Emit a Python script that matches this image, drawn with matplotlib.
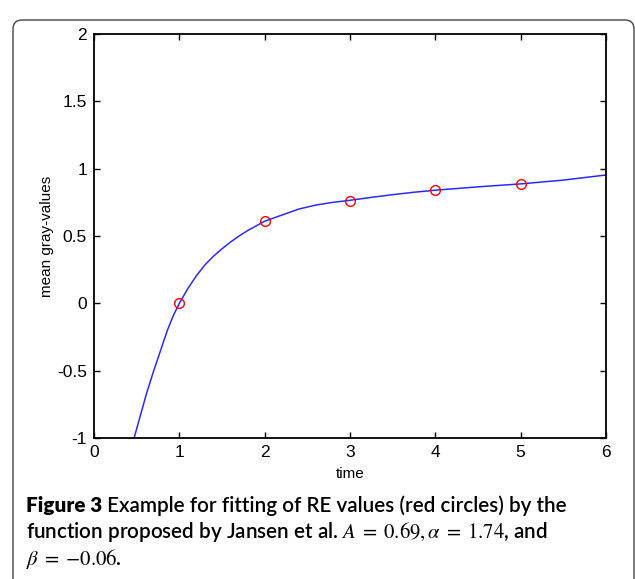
import matplotlib
matplotlib.use("Agg")
import matplotlib.pyplot as plt
from matplotlib.patches import FancyBboxPatch
from matplotlib.transforms import IdentityTransform

# RE values (red circles)
t_obs = [1, 2, 3, 4, 5]
re_obs = [0.0, 0.61, 0.76, 0.84, 0.885]

# fitted curve (Jansen et al.)
t_fit = [0.47, 0.54, 0.62, 0.70, 0.78, 0.86, 0.93, 1.0, 1.1, 1.2, 1.3, 1.4,
         1.5, 1.6, 1.7, 1.8, 1.9, 2.0, 2.2, 2.4, 2.6, 2.8, 3.0, 3.25, 3.5,
         3.75, 4.0, 4.5, 5.0, 5.5, 6.0]
y_fit = [-1.0, -0.84, -0.66, -0.50, -0.35, -0.20, -0.09, 0.0, 0.11, 0.205,
         0.285, 0.35, 0.405, 0.455, 0.50, 0.54, 0.575, 0.61, 0.655, 0.70,
         0.73, 0.75, 0.765, 0.787, 0.807, 0.825, 0.84, 0.865, 0.887, 0.915,
         0.953]

x_ticks = [0, 1, 2, 3, 4, 5, 6]
y_ticks = [-1, -0.5, 0, 0.5, 1, 1.5, 2]
y_tick_labels = ["-1", "-0.5", "0", "0.5", "1", "1.5", "2"]

caption_1 = " Example for fitting of RE values (red circles) by the"
caption_2 = r"function proposed by Jansen et al. $A\;=\;0.69,\alpha\;=\;1.74$, and"
caption_3 = r"$\beta\;=\;{-}0.06$."

W, H = 635, 579
plt.rcParams["font.family"] = ["Liberation Sans", "DejaVu Sans"]
plt.rcParams["axes.unicode_minus"] = False
plt.rcParams["mathtext.fontset"] = "stix"

fig = plt.figure(figsize=(W / 100, H / 100), dpi=100)

# rounded frame around the figure + caption
frame = FancyBboxPatch((13, -30), 621, 589, boxstyle="round,pad=0,rounding_size=9",
                       transform=IdentityTransform(), fill=False,
                       edgecolor="#444444", linewidth=1.0)
fig.add_artist(frame)

ax = fig.add_axes([94 / W, 1 - 438 / H, 512 / W, 404 / H])
ax.plot(t_fit, y_fit, color="#2a2aff", lw=1.1)
ax.plot(t_obs, re_obs, "o", mfc="none", mec="red", ms=7, mew=1.0)

ax.set_xlim(0, 6)
ax.set_ylim(-1, 2)
ax.set_xticks(x_ticks)
ax.set_yticks(y_ticks)
ax.set_yticklabels(y_tick_labels)
ax.tick_params(direction="in", top=True, right=True, length=4, width=1,
               labelsize=12.5, pad=5)
for s in ax.spines.values():
    s.set_linewidth(1.3)
ax.set_xlabel("time", fontsize=11, labelpad=5)
ax.set_ylabel("mean gray-values", fontsize=11, labelpad=2)

# caption
cap_font = ["Lato", "Liberation Sans"]
cap_size = 14.9
fig.canvas.draw()
r = fig.canvas.get_renderer()
t1 = fig.text(26 / W, 1 - 512 / H, "Figure 3", fontsize=cap_size, weight="heavy",
              family=cap_font, va="baseline")
bb = t1.get_window_extent(r)
fig.text(bb.x1 / W, 1 - 512 / H, caption_1, fontsize=cap_size, weight="semibold",
         family=cap_font, va="baseline")
fig.text(26 / W, 1 - 538 / H, caption_2, fontsize=cap_size, weight="semibold",
         family=cap_font, va="baseline")
fig.text(26 / W, 1 - 565 / H, caption_3, fontsize=cap_size, weight="semibold",
         family=cap_font, va="baseline")

fig.savefig("out.png", dpi=100)
